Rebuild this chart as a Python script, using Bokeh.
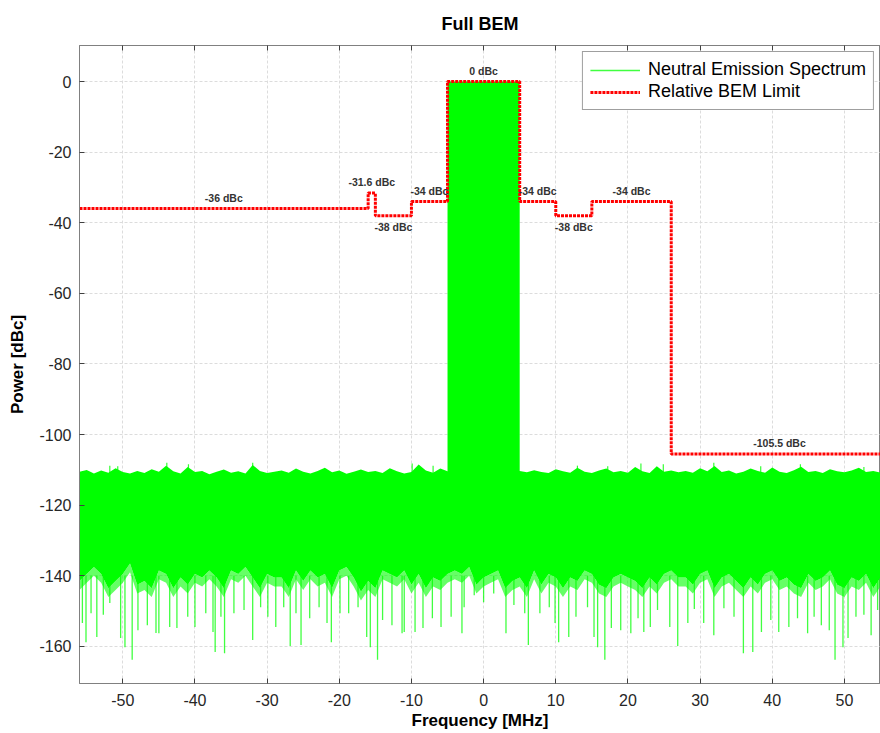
from bokeh.plotting import figure
from bokeh.models import (Range1d, LinearAxis, FixedTicker, Legend, LegendItem,
                          ColumnDataSource)
from bokeh.core.properties import value
from bokeh.embed import file_html
from bokeh.resources import INLINE

# ---------------- data ----------------
x_ticks = [-50, -40, -30, -20, -10, 0, 10, 20, 30, 40, 50]
x_tick_labels = ["-50", "-40", "-30", "-20", "-10", "0", "10", "20", "30", "40", "50"]
y_ticks = [-160, -140, -120, -100, -80, -60, -40, -20, 0]
y_tick_labels = ["-160", "-140", "-120", "-100", "-80", "-60", "-40", "-20", "0"]

# Relative BEM limit: segment edges (MHz) and levels (dBc)
limit_edges = [-56, -16, -15, -10, -5, 5, 10, 15, 26, 56]
limit_levels = [-36, -31.6, -38, -34, 0, -34, -38, -34, -105.5]

# In-band signal (MHz band, dBc level)
signal_band = [-5, 5]
signal_level = 0

floor_freq = list(range(-56, 56))
floor_top = [-110.5, -110.0, -111.0, -110.2, -110.8, -109.5, -110.6, -111.0, -110.3, -110.9,
             -109.8, -110.5, -108.8, -110.4, -111.0, -109.2, -110.6, -110.3, -111.2, -110.5,
             -109.9, -110.8, -110.4, -111.0, -108.6, -110.3, -110.9, -110.5,
             -110.2, -110.8, -109.6, -110.5, -111.0, -110.3, -109.4, -110.7, -110.2, -111.1,
             -110.5, -109.9, -110.6, -110.3, -110.9, -109.5, -110.4, -111.0, -110.6, -108.5,
             -110.2, -110.8, -109.6, -110.4, -110.9, -110.2, -110.6, -110.4,
             -110.5, -110.2, -110.8, -110.4, -110.6, -110.3, -110.7, -110.1, -110.6, -110.9,
             -109.8, -110.4, -110.8, -109.4, -110.5, -110.9, -110.2, -109.6, -110.7, -110.3,
             -110.8, -109.2, -110.4, -110.9, -109.0, -110.5, -110.2, -110.7,
             -110.3, -110.8, -109.5, -110.4, -108.9, -110.6, -110.2, -111.0, -110.5, -109.6,
             -110.3, -110.8, -109.3, -110.5, -110.9, -110.1, -109.1, -110.6, -110.3, -110.9,
             -109.8, -110.4, -110.7, -110.2, -109.4, -110.6, -110.3, -110.8]
floor_bottom = [-144, -142, -140, -142, -146, -144, -142, -139, -145, -144,
                -146, -141, -142, -146, -143, -145, -142, -143, -141, -143,
                -146, -141, -142, -140, -143, -146, -142, -143,
                -143, -146, -141, -144, -141, -143, -142, -146, -141, -140,
                -143, -147, -144, -146, -141, -142, -143, -141, -145, -142,
                -146, -143, -144, -142, -141, -142, -140, -145,
                -143, -142, -141, -146, -144, -143, -146, -141, -145, -142,
                -143, -146, -143, -144, -141, -142, -145, -146, -143, -142,
                -143, -144, -146, -143, -145, -142, -141, -143,
                -143, -145, -142, -141, -146, -143, -142, -144, -146, -143,
                -145, -142, -141, -144, -143, -145, -146, -142, -144, -143,
                -141, -145, -146, -143, -144, -142, -146, -143]

# Deep downward noise spikes (MHz, dBc)
spike_freq = [-55.6, -55.1, -54.4, -53.6, -52.7, -51.8, -50.3, -49.7, -48.7, -47.9,
              -46.6, -45.4, -45.0, -43.5, -42.5, -41.0, -40.0, -38.5, -37.5, -37.2,
              -36.4, -35.9, -34.6, -33.2, -32.0, -30.9, -29.9, -28.8, -27.7, -26.8,
              -26.0, -25.3, -24.1, -22.8, -21.7, -21.1, -19.9, -18.7, -17.4, -16.2,
              -15.7, -14.7, -14.0, -12.7, -11.3, -11.0, -9.5, -8.4, -7.1, -5.9,
              -4.5, -3.0, -2.7, -1.3, 0.0, 1.4, 3.1, 4.2, 5.7, 6.2,
              7.8, 9.1, 9.9, 10.4, 11.8, 12.8, 14.4, 15.3, 15.8, 16.8,
              17.7, 19.0, 20.4, 21.4, 22.2, 23.1, 24.1, 25.8, 26.9, 28.3,
              29.2, 30.5, 31.9, 33.3, 34.7, 36.0, 37.3, 38.5, 39.8, 40.9,
              42.3, 43.5, 44.9, 45.8, 46.8, 47.9, 48.7, 49.8, 50.5, 51.6,
              52.7, 53.7, 54.6]
spike_depth = [-153.4, -158.8, -150.6, -157.3, -151.0, -147.7, -157.6, -160.2, -163.8, -155.4,
               -154.0, -156.2, -156.3, -154.5, -154.8, -151.6, -154.5, -150.6, -155.9, -161.6,
               -151.6, -161.9, -150.6, -149.7, -158.2, -148.9, -151.6, -154.5, -148.9, -159.9,
               -150.6, -159.6, -152.0, -148.9, -153.4, -158.8, -150.6, -150.6, -148.9, -157.3,
               -160.2, -163.8, -152.5, -154.0, -156.3, -155.9, -155.9, -154.8, -152.0, -154.5,
               -151.6, -156.3, -148.9, -145.5, -147.5, -145.0, -156.3, -148.3, -150.6, -159.6,
               -150.6, -148.9, -153.4, -158.8, -157.3, -151.6, -148.9, -157.3, -160.2, -163.8,
               -154.8, -155.4, -156.3, -152.0, -155.9, -154.5, -149.7, -154.5, -159.9, -153.4,
               -149.4, -153.4, -156.8, -149.2, -151.6, -161.9, -161.6, -155.9, -152.5, -155.9,
               -154.5, -152.0, -156.3, -151.6, -154.0, -155.4, -163.8, -160.2, -157.6, -151.6,
               -151.0, -156.8, -149.7]

# Upward noise tips (MHz, dBc)
tip_freq = [-51.8, -50.7, -43.9, -40.9, -32.0, -9.9, -7.0, 13.0, 17.2, 21.8, 24.9,
            31.9, 38.4, 43.9, 52.7]
tip_level = [-108.8, -109.0, -108.0, -108.4, -108.0, -108.2, -108.8, -108.8, -109.0,
             -108.2, -108.4, -108.0, -109.0, -108.4, -109.2]

# ---------------- figure ----------------
FONT = "Liberation Sans"
GREEN = "#00ff00"

p = figure(width=880, height=733, x_range=Range1d(-56, 55), y_range=Range1d(-170.5, 10.2),
           output_backend="svg", toolbar_location=None,
           min_border_left=79, min_border_right=0, min_border_top=0, min_border_bottom=50)

p.title.text = "Full BEM"
p.title.align = "center"
p.title.text_font = FONT
p.title.text_font_size = "18px"
p.title.text_font_style = "bold"
p.title.text_color = "#000000"
p.title.standoff = 23

p.outline_line_color = "#808080"
p.background_fill_color = "white"
p.border_fill_color = "white"

for ax in (p.xaxis[0], p.yaxis[0]):
    ax.axis_line_color = "#808080"
    ax.major_tick_line_color = "#404040"
    ax.major_tick_in = 5
    ax.major_tick_out = 0
    ax.minor_tick_line_color = None
    ax.major_label_text_font = FONT
    ax.major_label_text_font_size = "16px"
    ax.major_label_text_color = "#262626"
    ax.axis_label_text_font = FONT
    ax.axis_label_text_font_size = "17px"
    ax.axis_label_text_font_style = "bold"
    ax.axis_label_text_color = "#000000"

p.xaxis.ticker = FixedTicker(ticks=x_ticks)
p.yaxis.ticker = FixedTicker(ticks=y_ticks)
p.xaxis.major_label_overrides = dict(zip(x_ticks, x_tick_labels))
p.yaxis.major_label_overrides = dict(zip(y_ticks, y_tick_labels))
p.xaxis.axis_label = "Frequency [MHz]"
p.yaxis.axis_label = "Power [dBc]"
p.xaxis.major_label_standoff = 10
p.xaxis.axis_label_standoff = 2
p.yaxis.major_label_standoff = 8
p.yaxis.axis_label_standoff = 9

# top box edge with inward ticks; invisible labels reserve a little room
top_axis = LinearAxis(ticker=FixedTicker(ticks=x_ticks), major_label_text_font_size="8px",
                      major_label_text_alpha=0, major_label_standoff=0,
                      axis_line_color="#808080", major_tick_in=5, major_tick_out=0,
                      minor_tick_line_color=None, major_tick_line_color="#404040")
p.add_layout(top_axis, "above")

p.grid.grid_line_color = "#dcdcdc"
p.grid.grid_line_dash = "3 2"
p.xgrid.ticker = FixedTicker(ticks=x_ticks)
p.ygrid.ticker = FixedTicker(ticks=y_ticks)

# spectrum body: dense noise floor, lighter fringe and in-band signal
solid_bottom = [b + 2.5 for b in floor_bottom]
p.varea(x=floor_freq, y1=floor_bottom, y2=solid_bottom, fill_color=GREEN, fill_alpha=0.6)
p.varea(x=floor_freq, y1=solid_bottom, y2=floor_top, fill_color=GREEN)
p.quad(left=signal_band[0], right=signal_band[1], bottom=-120, top=signal_level,
       fill_color=GREEN, line_color=None)

spike_src = ColumnDataSource(dict(x=spike_freq, y0=[-140] * len(spike_freq), y1=spike_depth))
spikes_r = p.segment(x0="x", y0="y0", x1="x", y1="y1", source=spike_src,
                     line_color=GREEN, line_width=1.3, line_alpha=0.75)
tip_src = ColumnDataSource(dict(x=tip_freq, y0=[-111] * len(tip_freq), y1=tip_level))
p.segment(x0="x", y0="y0", x1="x", y1="y1", source=tip_src,
          line_color=GREEN, line_width=1.2, line_alpha=0.8)

# limit step line
lx, ly = [], []
for i, lev in enumerate(limit_levels):
    lx += [limit_edges[i], limit_edges[i + 1]]
    ly += [lev, lev]
limit_r = p.line(lx, ly, line_color="red", line_width=3, line_dash="3 1")

# limit labels
lab_x, lab_y, lab_t = [], [], []
for i, lev in enumerate(limit_levels):
    mid = (limit_edges[i] + limit_edges[i + 1]) / 2
    off = -3.2 if lev == -38 else 3.0
    lab_x.append(mid)
    lab_y.append(lev + off)
    lab_t.append(f"{lev:g} dBc")
p.text(x=lab_x, y=lab_y, text=lab_t, text_align="center", text_baseline="middle",
       text_font=value(FONT), text_font_size="10.5px", text_font_style="bold",
       text_color="#333333")

legend = Legend(items=[LegendItem(label="Neutral Emission Spectrum", renderers=[spikes_r]),
                       LegendItem(label="Relative BEM Limit", renderers=[limit_r])],
                location="top_right")
legend.label_text_font = FONT
legend.label_text_font_size = "18px"
legend.label_text_color = "#000000"
legend.border_line_color = "#404040"
legend.border_line_width = 1
legend.glyph_width = 50
legend.glyph_height = 18
legend.label_height = 18
legend.label_standoff = 8
legend.spacing = 1
legend.padding = 7
legend.margin = 6
legend.background_fill_alpha = 1
p.add_layout(legend)

open("out.html", "w").write(file_html(p, INLINE))
